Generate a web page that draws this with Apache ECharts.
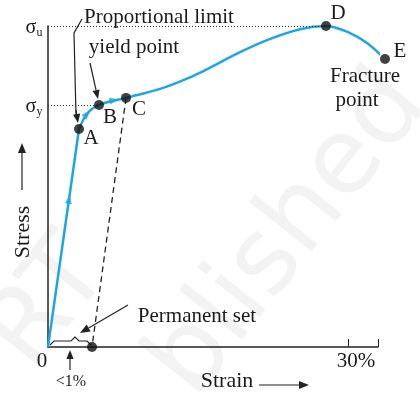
<!DOCTYPE html>
<html>
<head>
<meta charset="utf-8">
<script src="https://cdn.jsdelivr.net/npm/echarts@6/dist/echarts.min.js"></script>
<style>
  html, body { margin: 0; padding: 0; background: #fff; }
  #chart { width: 420px; height: 400px; }
</style>
</head>
<body>
<div id="chart"></div>
<script>
// strain in %, stress in % of ultimate stress
const elasticX = [0, 3.1];
const elasticY = [0, 67.9];
const curveX = [3.1, 3.9, 5.1, 7.8, 11.2, 13.9, 16.2, 18.5, 21.9, 25.2, 27.8, 30.2, 31.9, 33.7];
const curveY = [67.9, 72.6, 75.4, 77.6, 80.4, 83.6, 87.0, 90.8, 95.6, 99.0, 100, 97.8, 94.7, 89.7];
const pointNames = ['A', 'B', 'C', 'D', 'E'];
const pointX = [3.1, 5.1, 7.8, 27.8, 33.7];
const pointY = [67.9, 75.4, 77.6, 100, 89.7];
const unloadX = [7.8, 4.4];
const unloadY = [77.6, 0];
const sigmaU = 100;
const sigmaY = 75.4;
const xTicks = [0, 30];

const blue = '#1ea5e3';
const serif = 'Liberation Serif';

let chart = echarts.init(document.getElementById('chart'));

let option = {
  animation: false,
  grid: { left: 48, right: 42, top: 26, bottom: 53 },
  xAxis: {
    type: 'value',
    min: 0,
    max: 33,
    interval: 30,
    axisLine: { show: true, lineStyle: { color: '#222', width: 1.5 } },
    axisTick: { show: true, inside: true, length: 8, lineStyle: { color: '#222' } },
    axisLabel: { show: false },
    splitLine: { show: false }
  },
  yAxis: {
    type: 'value',
    min: 0,
    max: 100,
    axisLine: { show: true, lineStyle: { color: '#222', width: 1.5 } },
    axisTick: { show: false },
    axisLabel: { show: false },
    splitLine: { show: false }
  },
  series: [
    {
      // elastic part, straight
      type: 'line',
      data: elasticX.map((x, i) => [x, elasticY[i]]),
      showSymbol: false,
      lineStyle: { color: blue, width: 2.5 },
      z: 3
    },
    {
      type: 'line',
      data: curveX.map((x, i) => [x, curveY[i]]),
      smooth: 0.35,
      showSymbol: false,
      clip: false,
      lineStyle: { color: blue, width: 2.5 },
      z: 3,
      markLine: {
        silent: true,
        symbol: 'none',
        label: { show: false },
        lineStyle: { color: '#333', type: [1, 2], width: 1 },
        data: [
          [{ coord: [0, sigmaU] }, { coord: [pointX[3], sigmaU] }],
          [{ coord: [0, sigmaY] }, { coord: [pointX[1], sigmaY] }]
        ]
      }
    },
    {
      // unloading line to permanent set
      type: 'line',
      data: unloadX.map((x, i) => [x, unloadY[i]]),
      showSymbol: false,
      lineStyle: { color: '#222', width: 1.3, type: [6, 4] },
      z: 2
    },
    {
      type: 'scatter',
      data: pointX.map((x, i) => [x, pointY[i]]).concat([[unloadX[1], 0]]),
      symbolSize: 10,
      clip: false,
      itemStyle: { color: '#111' },
      z: 5
    },
    {
      // direction arrows along the curve
      type: 'scatter',
      data: [
        { value: [2.1, 46], symbolRotate: -8 },
        { value: [3.9, 72.6], symbolRotate: -42 },
        { value: [6.6, 76.9], symbolRotate: -78 }
      ],
      symbol: 'triangle',
      symbolSize: [7, 9],
      itemStyle: { color: blue },
      z: 4
    }
  ]
};

chart.setOption(option);

function arrow(x1, y1, x2, y2, color, head) {
  head = head || 8;
  let a = Math.atan2(y2 - y1, x2 - x1);
  let w = head * 0.4;
  let bx = x2 - head * Math.cos(a), by = y2 - head * Math.sin(a);
  return [
    { type: 'line', shape: { x1: x1, y1: y1, x2: bx, y2: by }, style: { stroke: color, lineWidth: 1.2 } },
    {
      type: 'polygon',
      shape: { points: [[x2, y2], [bx - w * Math.sin(a), by + w * Math.cos(a)], [bx + w * Math.sin(a), by - w * Math.cos(a)]] },
      style: { fill: color }
    }
  ];
}

function txt(x, y, text, size, extra) {
  return Object.assign({
    type: 'text',
    x: x,
    y: y,
    style: {
      text: text,
      fontFamily: serif,
      fontSize: size,
      fill: '#1a1a1a',
      align: 'center',
      verticalAlign: 'middle'
    },
    z: 10
  }, extra || {});
}

function sigma(x, y, sub) {
  return {
    type: 'text', x: x, y: y, z: 10,
    style: {
      text: '{s|σ}{u|' + sub + '}',
      align: 'center',
      verticalAlign: 'middle',
      rich: {
        s: { fontFamily: serif, fontSize: 20, fill: '#1a1a1a' },
        u: { fontFamily: serif, fontSize: 12, fill: '#1a1a1a', padding: [10, 0, 0, 0] }
      }
    }
  };
}

let px = chart.convertToPixel({ gridIndex: 0 }, [0, 0]);
let pU = chart.convertToPixel({ gridIndex: 0 }, [0, sigmaU]);
let pY = chart.convertToPixel({ gridIndex: 0 }, [0, sigmaY]);
let p30 = chart.convertToPixel({ gridIndex: 0 }, [xTicks[1], 0]);
let pts = pointX.map((x, i) => chart.convertToPixel({ gridIndex: 0 }, [x, pointY[i]]));
let pSet = chart.convertToPixel({ gridIndex: 0 }, [unloadX[1], 0]);

let g = [];

// faint watermark
g.push({
  type: 'text', x: 290, y: 235, rotation: 0.9, z: -1,
  style: { text: 'blished', fontFamily: 'DejaVu Sans', fontSize: 105, fill: '#f3f3f3', align: 'center', verticalAlign: 'middle' }
});
g.push({
  type: 'text', x: 50, y: 305, rotation: 0.9, z: -1,
  style: { text: 'RT', fontFamily: 'DejaVu Sans', fontSize: 105, fill: '#f3f3f3', align: 'center', verticalAlign: 'middle' }
});

// sigma labels
g.push(sigma(34, pU[1] + 2, 'u'));
g.push(sigma(34, pY[1] + 2, 'y'));

// point letters
const letterOff = [[12, 9], [11, 13], [13, 12], [12, -13], [15, -8]];
pts.forEach((p, i) => g.push(txt(p[0] + letterOff[i][0], p[1] + letterOff[i][1], pointNames[i], 21)));

g.push(txt(365, 76, 'Fracture', 21));
g.push(txt(357, 100, 'point', 21));
g.push(txt(159, 17, 'Proportional limit', 21));
g.push(txt(134, 47, 'yield point', 21));
g.push(txt(197, 316, 'Permanent set', 21));

// axis text
g.push(txt(px[0] - 6, px[1] + 14, '0', 21));
g.push(txt(p30[0] + 8, px[1] + 14, '30%', 21));
g.push(txt(71, 382, '<1%', 16));
g.push(txt(227, 381, 'Strain', 22));
g.push(txt(23, 232, 'Stress', 22, { rotation: Math.PI / 2 }));

// pointers
g.push({
  type: 'polyline',
  shape: { points: [[82, 19], [74, 33], [76, 116]] },
  style: { stroke: '#222', lineWidth: 1.2, fill: null }
});
g = g.concat(arrow(76, 110, pts[0][0] - 1, pts[0][1] - 6, '#222', 9));
g = g.concat(arrow(90, 63, pts[1][0] - 1, pts[1][1] - 6, '#222', 9));
g = g.concat(arrow(128, 305, 80, 333, '#222', 10));
g = g.concat(arrow(70, 370, 70, 350, '#222', 9));
g = g.concat(arrow(259, 385, 309, 385, '#222', 10));
g = g.concat(arrow(22, 190, 22, 143, '#222', 10));

// brace over permanent set
g.push({
  type: 'polyline',
  shape: {
    points: [[px[0] + 2, 345], [px[0] + 6, 341], [71, 341], [75, 337], [79, 341], [pSet[0] - 5, 341], [pSet[0] - 1, 345]]
  },
  style: { stroke: '#222', lineWidth: 1.1, fill: null }
});

chart.setOption({ graphic: { elements: g } });
</script>
</body>
</html>
